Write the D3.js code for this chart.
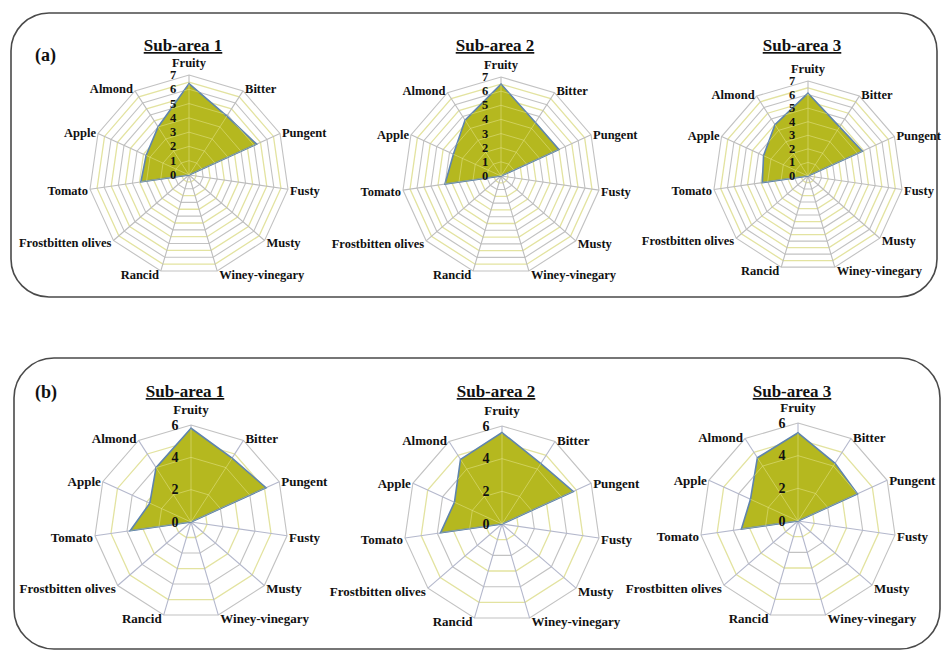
<!DOCTYPE html>
<html>
<head>
<meta charset="utf-8">
<script src="https://cdn.jsdelivr.net/npm/d3@7/dist/d3.min.js"></script>
<style>
  html, body { margin: 0; padding: 0; background: #fff; }
  svg { display: block; }
  text { font-family: "Liberation Serif", "Times New Roman", serif; font-weight: bold; fill: #111; }
</style>
</head>
<body>
<svg id="chart" width="944" height="654"></svg>
<script>
// Sensory attributes, clockwise from the top
const attributes = ["Fruity", "Bitter", "Pungent", "Fusty", "Musty", "Winey-vinegary",
  "Rancid", "Frostbitten olives", "Tomato", "Apple", "Almond"];

const subAreaTitles = ["Sub-area 1", "Sub-area 2", "Sub-area 3"];
const panelLetters = ["(a)", "(b)"];

// Panel (a): median intensities per sub-area
const panelAArea1 = [6.4, 4.9, 5.2, 0, 0, 0, 0, 0, 3.4, 3.3, 4.0];
const panelAArea2 = [6.5, 4.5, 4.5, 0, 0, 0, 0, 0, 4.0, 3.7, 4.7];
const panelAArea3 = [6.1, 4.3, 4.4, 0, 0, 0, 0, 0, 3.4, 3.6, 4.5];

// Panel (b): median intensities per sub-area
const panelBArea1 = [5.8, 4.7, 5.1, 0, 0, 0, 0, 0, 3.8, 2.8, 4.0];
const panelBArea2 = [5.6, 4.4, 4.8, 0, 0, 0, 0, 0, 3.8, 3.2, 4.7];
const panelBArea3 = [5.4, 4.2, 4.0, 0, 0, 0, 0, 0, 3.5, 3.2, 4.6];

// Radial tick labels
const ticksA = [0, 1, 2, 3, 4, 5, 6, 7];
const ticksB = [0, 2, 4, 6];

const svg = d3.select("#chart");
const n = attributes.length;
const angle = d3.scaleLinear().domain([0, n]).range([0, 2 * Math.PI]);

// Rounded frames around each panel
svg.append("rect").attr("x", 11).attr("y", 13).attr("width", 926).attr("height", 284)
  .attr("rx", 38).attr("ry", 38).attr("fill", "none").attr("stroke", "#4a4a4a").attr("stroke-width", 1.6);
svg.append("rect").attr("x", 14).attr("y", 358).attr("width", 926).attr("height", 291)
  .attr("rx", 40).attr("ry", 40).attr("fill", "none").attr("stroke", "#4a4a4a").attr("stroke-width", 1.6);

svg.append("text").attr("x", 35).attr("y", 61).attr("font-size", 18).text(panelLetters[0]);
svg.append("text").attr("x", 35).attr("y", 398).attr("font-size", 18).text(panelLetters[1]);

let clipId = 0;

function radar(cfg) {
  const g = svg.append("g");
  const r = d3.scaleLinear().domain([0, cfg.max]).range([0, cfg.R]);
  const ring = v => d3.lineRadial()
    .angle((d, i) => angle(i))
    .radius(() => r(v))
    .curve(d3.curveLinearClosed)(attributes);
  const dataPath = d3.lineRadial()
    .angle((d, i) => angle(i))
    .radius(d => r(d))
    .curve(d3.curveLinearClosed)(cfg.values);

  const plot = g.append("g").attr("transform", `translate(${cfg.cx},${cfg.cy})`);

  // minor rings (pale khaki) and major rings (grey)
  const minor = d3.range(cfg.minorStep, cfg.max + 1e-9, cfg.minorStep)
    .filter(v => Math.abs(v / cfg.majorStep - Math.round(v / cfg.majorStep)) > 1e-6);
  plot.selectAll(".minor").data(minor).join("path")
    .attr("d", d => ring(d)).attr("fill", "none")
    .attr("stroke", "#e3e3a0").attr("stroke-width", 1.3);
  const major = d3.range(cfg.majorStep, cfg.max + 1e-9, cfg.majorStep);
  plot.selectAll(".major").data(major).join("path")
    .attr("d", d => ring(d)).attr("fill", "none")
    .attr("stroke", "#c2c2c2").attr("stroke-width", 1.1);

  // spokes
  plot.selectAll(".spoke").data(attributes).join("line")
    .attr("x1", 0).attr("y1", 0)
    .attr("x2", (d, i) => r(cfg.max) * Math.sin(angle(i)))
    .attr("y2", (d, i) => -r(cfg.max) * Math.cos(angle(i)))
    .attr("stroke", cfg.spokeColor).attr("stroke-width", 1.1);

  // data polygon
  plot.append("path").attr("d", dataPath)
    .attr("fill", "#b5b81f").attr("stroke", "#5f84ad").attr("stroke-width", 1.6)
    .attr("stroke-linejoin", "miter");

  // grid lines seen faintly through the filled area
  const id = "clip" + (clipId++);
  plot.append("clipPath").attr("id", id).append("path").attr("d", dataPath);
  const inner = plot.append("g").attr("clip-path", `url(#${id})`);
  inner.selectAll("path").data(major).join("path")
    .attr("d", d => ring(d)).attr("fill", "none")
    .attr("stroke", "#e4e48a").attr("stroke-opacity", 0.55).attr("stroke-width", 1);
  inner.selectAll("line").data(attributes).join("line")
    .attr("x1", 0).attr("y1", 0)
    .attr("x2", (d, i) => r(cfg.max) * Math.sin(angle(i)))
    .attr("y2", (d, i) => -r(cfg.max) * Math.cos(angle(i)))
    .attr("stroke", "#e4e48a").attr("stroke-opacity", 0.55).attr("stroke-width", 1);

  // radial tick labels along the first spoke
  plot.selectAll(".tick").data(cfg.ticks).join("text")
    .attr("x", -16).attr("y", d => -r(d))
    .attr("text-anchor", "middle").attr("dominant-baseline", "central")
    .attr("font-size", cfg.tickSize).text(d => d);

  // attribute labels around the web
  plot.selectAll(".lab").data(attributes).join("text")
    .each(function (d, i) {
      const a = angle(i), s = Math.sin(a), c = Math.cos(a);
      const vx = r(cfg.max) * s, vy = -r(cfg.max) * c;
      const t = d3.select(this).attr("font-size", cfg.labelSize).text(d);
      if (Math.abs(s) < 0.05) {
        t.attr("x", vx).attr("y", vy - cfg.topGap).attr("text-anchor", "middle");
      } else {
        t.attr("x", vx + (s > 0 ? 2 : -2)).attr("y", vy - 3 * c + 1)
          .attr("text-anchor", s > 0 ? "start" : "end")
          .attr("dominant-baseline", "central");
      }
    });

  // sub-area title
  g.append("text").attr("x", cfg.cx - 6).attr("y", cfg.titleY)
    .attr("text-anchor", "middle").attr("font-size", 17)
    .attr("text-decoration", "underline").text(cfg.title);
}

const panelA = [panelAArea1, panelAArea2, panelAArea3];
const panelB = [panelBArea1, panelBArea2, panelBArea3];
const centersA = [[189, 175, 100], [501, 176, 99], [808, 176, 95]];
const centersB = [[191, 522, 97], [502, 524, 98], [798, 521, 98]];

panelA.forEach((vals, k) => radar({
  cx: centersA[k][0], cy: centersA[k][1], R: centersA[k][2],
  max: 7, majorStep: 1, minorStep: 0.5, ticks: ticksA, values: vals,
  title: subAreaTitles[k], titleY: 51, tickSize: 12.5, labelSize: 12.5, topGap: 8,
  spokeColor: "#bdbdbd"
}));

panelB.forEach((vals, k) => radar({
  cx: centersB[k][0], cy: centersB[k][1], R: centersB[k][2],
  max: 6, majorStep: 2, minorStep: 1, ticks: ticksB, values: vals,
  title: subAreaTitles[k], titleY: 397, tickSize: 14, labelSize: 13, topGap: 11,
  spokeColor: "#b4b8cc"
}));
</script>
</body>
</html>
